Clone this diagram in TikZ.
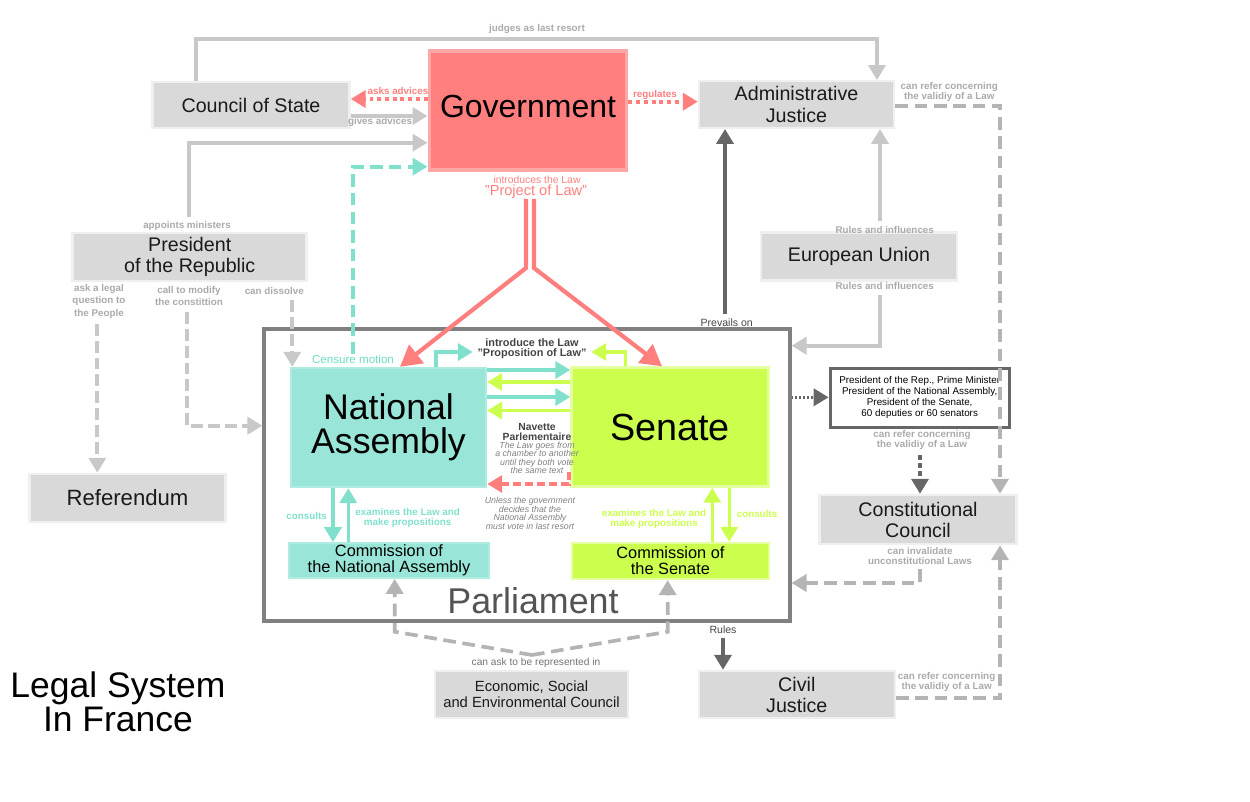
\documentclass[tikz,border=0pt]{standalone}
\usepackage{fontspec}
\setmainfont{Liberation Sans}
\usetikzlibrary{arrows.meta}
\definecolor{boxgray}{HTML}{D9D9D9}
\definecolor{boxrim}{HTML}{EFEFEF}
\definecolor{textblack}{HTML}{1A1A1A}
\definecolor{linegray}{HTML}{C8C8C8}
\definecolor{dashcol}{HTML}{B4B4B4}
\definecolor{darkline}{HTML}{666666}
\definecolor{framegray}{HTML}{808080}
\definecolor{govred}{HTML}{FF7F7F}
\definecolor{govrim}{HTML}{FFA6A6}
\definecolor{nateal}{HTML}{99E6D8}
\definecolor{natealrim}{HTML}{AEEBE0}
\definecolor{tealarrow}{HTML}{80E0CC}
\definecolor{tealtext}{HTML}{6CDBC4}
\definecolor{senlime}{HTML}{CCFF4D}
\definecolor{senrim}{HTML}{E4FFA0}
\definecolor{labgray}{HTML}{AAAAAA}
\definecolor{darktext}{HTML}{444444}

\begin{document}
\begin{tikzpicture}[x=0.02cm, y=-0.02cm,
    box/.style={draw=boxrim, line width=1.4pt, fill=boxgray, inner sep=0pt, align=center, text=textblack,
      minimum width=3.92cm, minimum height=0.95cm, font=\fontsize{11.2}{12}\selectfont},
    lab/.style={inner sep=0pt, align=center, text=labgray, font=\bfseries\fontsize{5.6}{5.8}\selectfont},
    arr/.style={-{Triangle[length=0.3cm,width=0.34cm]}},
    gline/.style={arr, draw=linegray, line width=2.2pt},
    dline/.style={arr, draw=darkline, line width=2.2pt},
    gdash/.style={arr, draw=linegray, line width=2.1pt, dash pattern=on 6.8pt off 2.8pt},
    gdashb/.style={arr, draw=dashcol, line width=2.1pt, dash pattern=on 7.2pt off 3.8pt},
    tdash/.style={arr, draw=tealarrow, line width=2.1pt, dash pattern=on 7pt off 3.6pt},
    pdot/.style={arr, draw=govred, line width=2.2pt, dash pattern=on 2.2pt off 2.2pt},
    pline/.style={-{Triangle[length=0.42cm,width=0.46cm]}, draw=govred, line width=2.4pt},
    tline/.style={arr, draw=tealarrow, line width=2pt},
    lline/.style={arr, draw=senlime, line width=2pt},
    pdash/.style={arr, draw=govred, line width=2pt, dash pattern=on 4.5pt off 2.3pt},
    ddash/.style={arr, draw=darkline, line width=2.2pt, dash pattern=on 2.8pt off 1.7pt},
    ddot/.style={arr, draw=darkline, line width=2pt, dash pattern=on 1.1pt off 1.1pt},
  ]
    \useasboundingbox (0,0) rectangle (1250,801);

    \node [draw=framegray, line width=1.8pt, minimum width=10.52cm, minimum height=5.84cm] (parl) at (527,475) {};
    \node [text=black!67, font=\fontsize{20.4}{22}\selectfont, inner sep=0pt] (parlt) at (533,601) {Parliament};

    \node [box, minimum width=3.94cm, minimum height=0.93cm] (cs) at (251,105) {Council of State};
    \node [draw=govrim, line width=2pt, fill=govred, inner sep=0pt, minimum width=3.95cm, minimum height=2.39cm,
      font=\fontsize{18.2}{20}\selectfont] (gov) at (528,110.5) {Government\rule[-5pt]{0pt}{5pt}};
    \node [box, minimum width=3.9cm, minimum height=0.93cm] (aj) at (796.5,104.5) {Administrative\\Justice};
    \node [box, minimum width=4.68cm] (pr) at (189.7,257) {President\\of the Republic};
    \node [box, minimum height=0.96cm, font=\fontsize{12.6}{13}\selectfont] (ref) at (127.5,498) {Referendum};
    \node [box, minimum height=0.96cm] (eu) at (859,256.7) {European Union};
    \node [draw=natealrim, line width=1.4pt, fill=nateal, inner sep=0pt, align=center, minimum width=3.9cm, minimum height=2.38cm,
      font=\fontsize{20.3}{19.2}\selectfont] (na) at (388.5,427.5) {National\\Assembly};
    \node [draw=senrim, line width=1.4pt, fill=senlime, inner sep=0pt, minimum width=3.94cm, minimum height=2.38cm,
      font=\fontsize{21.5}{22}\selectfont] (sen) at (670,427) {Senate};
    \node [draw=natealrim, line width=1pt, fill=nateal, inner sep=0pt, align=center, minimum width=4cm, minimum height=0.7cm,
      font=\fontsize{9.3}{9}\selectfont] (cna) at (389,560.5) {Commission of\\the National Assembly};
    \node [draw=senrim, line width=1pt, fill=senlime, inner sep=0pt, align=center, minimum width=3.94cm, minimum height=0.73cm,
      font=\fontsize{9.3}{9}\selectfont] (csen) at (670.4,561) {Commission of\\the Senate};
    \node [draw=darkline, line width=1.8pt, fill=white, inner sep=0pt, align=center, minimum width=3.58cm, minimum height=1.18cm,
      font=\fontsize{5.6}{6.3}\selectfont] (prb) at (919.7,397.8)
      {President of the Rep., Prime Minister\\President of the National Assembly,\\President of the Senate,\\60 deputies or 60 senators};
    \node [box, minimum width=3.94cm, minimum height=0.98cm] (cc) at (918,519.5) {Constitutional\\Council};
    \node [box, minimum width=3.86cm, minimum height=0.94cm, font=\fontsize{8.4}{8.9}\selectfont] (esec) at (531.5,694.5)
      {Economic, Social\\and Environmental Council};
    \node [box, minimum width=3.92cm, minimum height=0.94cm] (cj) at (796.8,694.5) {Civil\\Justice};

    \node [align=center, inner sep=0pt, font=\fontsize{20.2}{19.3}\selectfont] (title) at (118,702) {Legal System\\In France};

    \node [lab] (jl) at (537,28.5) {judges as last resort};
    \node [lab, text=govred] (aal) at (398,91) {asks advices};
    \node [lab] (gal) at (380,122) {gives advices};
    \node [lab] (aml) at (187,226) {appoints ministers};
    \node [inner sep=0pt, text=tealtext, font=\fontsize{6.6}{7}\selectfont] (cml) at (353,359) {Censure motion};
    \node [lab, text=govred] (rgl) at (655,95) {regulates};
    \node [lab, text=govred, font=\fontsize{5.9}{6}\selectfont] (intl) at (537,179.5) {introduces the Law};
    \node [inner sep=0pt, text=govred, font=\fontsize{8.3}{9}\selectfont] (pjl) at (536,191.7) {"Project of Law"};
    \node [lab, text=darktext, font=\bfseries\fontsize{6.2}{6}\selectfont] (ipl) at (532,348.7)
      {introduce the Law\\"Proposition of Law"};
    \node [lab, text=darktext, font=\bfseries\fontsize{5.9}{5.7}\selectfont] (nvl) at (537,432) {Navette\\Parlementaire};
    \node [lab, text=black!50, font=\itshape\fontsize{5}{4.75}\selectfont] (nvi) at (537,457.7)
      {The Law goes from\\a chamber to another\\until they both vote\\the same text};
    \node [lab, text=black!50, font=\itshape\fontsize{5}{4.9}\selectfont] (unl) at (530,513.3)
      {Unless the government\\decides that the\\National Assembly\\must vote in last resort};
    \node [lab, text=tealarrow] (ccl) at (306.7,515.7) {consults};
    \node [lab, text=tealarrow] (exl) at (407.7,517.7) {examines the Law and\\make propositions};
    \node [lab, text=senlime] (exs) at (654,519) {examines the Law and\\make propositions};
    \node [lab, text=senlime] (ccs) at (757,514) {consults};
    \node [lab] (cdl) at (274.3,291) {can dissolve};
    \node [lab, font=\bfseries\fontsize{5.6}{6.6}\selectfont] (cml2) at (189,296) {call to modify\\the constittion};
    \node [lab, font=\bfseries\fontsize{5.6}{7}\selectfont] (alq) at (99,301.3) {ask a legal\\question to\\the People};
    \node [inner sep=0pt, text=darktext, font=\fontsize{6}{6}\selectfont] (pvl) at (726.7,322.7) {Prevails on};
    \node [lab] (ri1) at (884.7,230) {Rules and influences};
    \node [lab] (ri2) at (884.7,286) {Rules and influences};
    \node [lab] (crl1) at (949.3,91.7) {can refer concerning\\the validiy of a Law};
    \node [lab] (crl2) at (922,440) {can refer concerning\\the validiy of a Law};
    \node [lab] (cil) at (920,556) {can invalidate\\unconstitutional Laws};
    \node [lab] (crl3) at (946.6,682.3) {can refer concerning\\the validiy of a Law};
    \node [inner sep=0pt, text=darktext, font=\fontsize{6}{6}\selectfont] (rul) at (723,630) {Rules};
    \node [inner sep=0pt, text=black!55, font=\fontsize{5.8}{6}\selectfont] (cal) at (536,662.7) {can ask to be represented in};

    \coordinate (nvs) at (569,472);
    \coordinate (vb) at (532,655);

    \draw [gline] (cs.north -| 196,0) -- ++(0,-41.5) -| (aj.north -| 877,0);
    \draw [pdot] (gov.west |- 0,99) -- (cs.east |- 0,99);
    \draw [gline] (cs.east |- 0,116) -- (gov.west |- 0,116);
    \draw [gline, shorten <=2.5pt] (aml.north -| 189,0) |- (gov.west |- 0,142.7);
    \draw [tdash] (cml.north -| 353.3,0) |- (gov.west |- 0,166.7);
    \draw [pdot] (gov.east |- 0,101.7) -- (aj.west |- 0,101.7);
    \draw [pline] (pjl.south -| 526,0) -- (526,268) -- (na.north -| 400,0);
    \draw [pline] (pjl.south -| 534,0) -- (534,268) -- (sen.north -| 662,0);
    \draw [tline, shorten >=2.5pt] (na.north -| 436,0) |- (ipl.west |- 0,352);
    \draw [lline, shorten >=2.5pt] (sen.north -| 625.6,0) |- (ipl.east |- 0,352);
    \draw [tline] (na.east |- 0,370) -- (sen.west |- 0,370);
    \draw [lline] (sen.west |- 0,382) -- (na.east |- 0,382);
    \draw [tline] (na.east |- 0,397) -- (sen.west |- 0,397);
    \draw [lline] (sen.west |- 0,410.5) -- (na.east |- 0,410.5);
    \draw [pdash] (nvs) |- (na.east |- 0,484);
    \draw [tline] (na.south -| 333,0) -- (cna.north -| 333,0);
    \draw [tline] (cna.north -| 348.3,0) -- (na.south -| 348.3,0);
    \draw [lline] (csen.north -| 712.3,0) -- (sen.south -| 712.3,0);
    \draw [lline] (sen.south -| 729.3,0) -- (csen.north -| 729.3,0);
    \draw [gdash, shorten <=3pt] (cdl.south -| 292.3,0) -- (na.north -| 292.3,0);
    \draw [gdash, shorten <=3.5pt] (cml2.south -| 186.7,0) |- (parl.west |- 0,425.7);
    \draw [gdash, shorten <=3pt] (alq.south -| 97.3,0) -- (ref.north -| 97.3,0);
    \draw [dline, shorten <=2.5pt] (pvl.north -| 725,0) -- (aj.south -| 725,0);
    \draw [gline, shorten <=3pt] (ri1.north -| 880,0) -- (aj.south -| 880,0);
    \draw [gline, shorten <=3pt] (ri2.south -| 880,0) |- (parl.east |- 0,345.7);
    \draw [gdashb] (aj.east |- 0,105.7) -| (cc.north -| 1000,0);
    \draw [ddot] (parl.east |- 0,397.3) -- (prb.west |- 0,397.3);
    \draw [ddash, shorten <=3pt] (crl2.south -| 920,0) -- (cc.north -| 920,0);
    \draw [gdashb, shorten <=2.5pt] (cil.south -| 920,0) |- (parl.east |- 0,583);
    \draw [gdashb] (cj.east |- 0,698.3) -| (cc.south -| 1000,0);
    \draw [dline, shorten <=2pt] (rul.south) -- (cj.north -| 723,0);
    \draw [gdashb] (vb) -- (394.7,631.7) -- (cna.south -| 394.7,0);
    \draw [gdashb] (vb) -- (667.7,631.7) -- (csen.south -| 667.7,0);
  \end{tikzpicture}
\end{document}
